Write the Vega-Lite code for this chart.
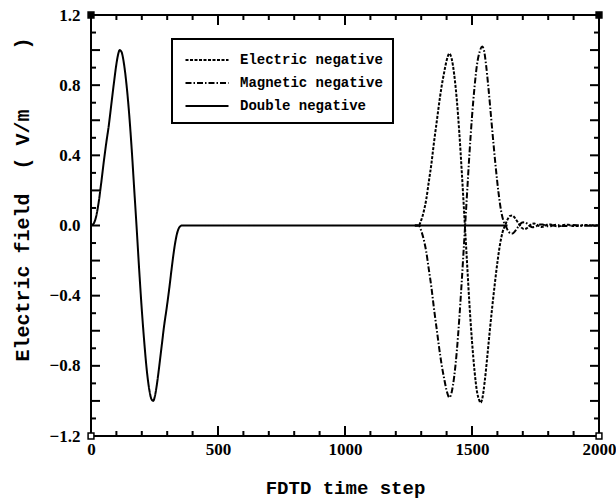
{
  "$schema": "https://vega.github.io/schema/vega-lite/v6.json",
  "width": 508,
  "height": 421,
  "autosize": {"type": "none"},
  "padding": {"left": 91, "top": 15, "right": 17, "bottom": 67},
  "background": "white",
  "config": {
    "view": {"stroke": "black", "strokeWidth": 2},
    "legend": {"strokeWidth": 2},
    "axis": {"domain": false, "grid": false, "ticks": false}
  },
  "datasets": {
    "curves": [
      {"step": 0, "field": 0, "medium": "Double negative"}, {"step": 10, "field": 0.01, "medium": "Double negative"}, {"step": 20, "field": 0.05, "medium": "Double negative"}, {"step": 30, "field": 0.13, "medium": "Double negative"},
      {"step": 40, "field": 0.24, "medium": "Double negative"}, {"step": 50, "field": 0.36, "medium": "Double negative"}, {"step": 60, "field": 0.47, "medium": "Double negative"}, {"step": 70, "field": 0.57, "medium": "Double negative"},
      {"step": 80, "field": 0.69, "medium": "Double negative"}, {"step": 90, "field": 0.81, "medium": "Double negative"}, {"step": 100, "field": 0.92, "medium": "Double negative"}, {"step": 106, "field": 0.97, "medium": "Double negative"},
      {"step": 113, "field": 1.0, "medium": "Double negative"}, {"step": 120, "field": 0.99, "medium": "Double negative"}, {"step": 130, "field": 0.92, "medium": "Double negative"}, {"step": 140, "field": 0.8, "medium": "Double negative"},
      {"step": 150, "field": 0.64, "medium": "Double negative"}, {"step": 160, "field": 0.44, "medium": "Double negative"}, {"step": 170, "field": 0.21, "medium": "Double negative"}, {"step": 180, "field": -0.02, "medium": "Double negative"},
      {"step": 190, "field": -0.26, "medium": "Double negative"}, {"step": 200, "field": -0.48, "medium": "Double negative"}, {"step": 210, "field": -0.67, "medium": "Double negative"}, {"step": 220, "field": -0.83, "medium": "Double negative"},
      {"step": 230, "field": -0.94, "medium": "Double negative"}, {"step": 238, "field": -0.99, "medium": "Double negative"}, {"step": 245, "field": -1.0, "medium": "Double negative"}, {"step": 252, "field": -0.97, "medium": "Double negative"},
      {"step": 258, "field": -0.92, "medium": "Double negative"}, {"step": 268, "field": -0.81, "medium": "Double negative"}, {"step": 278, "field": -0.69, "medium": "Double negative"}, {"step": 288, "field": -0.57, "medium": "Double negative"},
      {"step": 298, "field": -0.47, "medium": "Double negative"}, {"step": 308, "field": -0.36, "medium": "Double negative"}, {"step": 318, "field": -0.24, "medium": "Double negative"}, {"step": 328, "field": -0.13, "medium": "Double negative"},
      {"step": 338, "field": -0.05, "medium": "Double negative"}, {"step": 348, "field": -0.01, "medium": "Double negative"}, {"step": 358, "field": 0, "medium": "Double negative"}, {"step": 1640, "field": 0, "medium": "Double negative"},

      {"step": 1275, "field": 0, "medium": "Electric negative"}, {"step": 1290, "field": 0, "medium": "Electric negative"}, {"step": 1300, "field": 0.03, "medium": "Electric negative"}, {"step": 1310, "field": 0.08, "medium": "Electric negative"},
      {"step": 1320, "field": 0.15, "medium": "Electric negative"}, {"step": 1330, "field": 0.25, "medium": "Electric negative"}, {"step": 1340, "field": 0.35, "medium": "Electric negative"}, {"step": 1350, "field": 0.47, "medium": "Electric negative"},
      {"step": 1360, "field": 0.58, "medium": "Electric negative"}, {"step": 1370, "field": 0.69, "medium": "Electric negative"}, {"step": 1380, "field": 0.79, "medium": "Electric negative"}, {"step": 1390, "field": 0.87, "medium": "Electric negative"},
      {"step": 1400, "field": 0.94, "medium": "Electric negative"}, {"step": 1411, "field": 0.98, "medium": "Electric negative"}, {"step": 1420, "field": 0.95, "medium": "Electric negative"}, {"step": 1430, "field": 0.86, "medium": "Electric negative"},
      {"step": 1440, "field": 0.72, "medium": "Electric negative"}, {"step": 1450, "field": 0.53, "medium": "Electric negative"}, {"step": 1460, "field": 0.3, "medium": "Electric negative"}, {"step": 1470, "field": 0.05, "medium": "Electric negative"},
      {"step": 1480, "field": -0.2, "medium": "Electric negative"}, {"step": 1490, "field": -0.45, "medium": "Electric negative"}, {"step": 1500, "field": -0.66, "medium": "Electric negative"}, {"step": 1510, "field": -0.83, "medium": "Electric negative"},
      {"step": 1520, "field": -0.95, "medium": "Electric negative"}, {"step": 1527, "field": -0.99, "medium": "Electric negative"}, {"step": 1534, "field": -1.01, "medium": "Electric negative"}, {"step": 1540, "field": -0.99, "medium": "Electric negative"},
      {"step": 1550, "field": -0.89, "medium": "Electric negative"}, {"step": 1560, "field": -0.75, "medium": "Electric negative"}, {"step": 1570, "field": -0.6, "medium": "Electric negative"}, {"step": 1580, "field": -0.46, "medium": "Electric negative"},
      {"step": 1590, "field": -0.33, "medium": "Electric negative"}, {"step": 1600, "field": -0.21, "medium": "Electric negative"}, {"step": 1610, "field": -0.11, "medium": "Electric negative"}, {"step": 1620, "field": -0.04, "medium": "Electric negative"},
      {"step": 1630, "field": 0.0, "medium": "Electric negative"}, {"step": 1640, "field": 0.035, "medium": "Electric negative"}, {"step": 1650, "field": 0.055, "medium": "Electric negative"}, {"step": 1658, "field": 0.057, "medium": "Electric negative"},
      {"step": 1665, "field": 0.05, "medium": "Electric negative"}, {"step": 1675, "field": 0.03, "medium": "Electric negative"}, {"step": 1685, "field": 0.008, "medium": "Electric negative"}, {"step": 1695, "field": -0.012, "medium": "Electric negative"},
      {"step": 1705, "field": -0.02, "medium": "Electric negative"}, {"step": 1715, "field": -0.016, "medium": "Electric negative"}, {"step": 1725, "field": -0.004, "medium": "Electric negative"}, {"step": 1735, "field": 0.008, "medium": "Electric negative"},
      {"step": 1745, "field": 0.011, "medium": "Electric negative"}, {"step": 1755, "field": 0.005, "medium": "Electric negative"}, {"step": 1765, "field": -0.004, "medium": "Electric negative"}, {"step": 1775, "field": -0.008, "medium": "Electric negative"},
      {"step": 1785, "field": -0.004, "medium": "Electric negative"}, {"step": 1795, "field": 0.004, "medium": "Electric negative"}, {"step": 1810, "field": 0.006, "medium": "Electric negative"}, {"step": 1825, "field": -0.002, "medium": "Electric negative"},
      {"step": 1840, "field": -0.005, "medium": "Electric negative"}, {"step": 1860, "field": 0.003, "medium": "Electric negative"}, {"step": 1880, "field": 0.004, "medium": "Electric negative"}, {"step": 1900, "field": -0.003, "medium": "Electric negative"},
      {"step": 1920, "field": -0.003, "medium": "Electric negative"}, {"step": 1940, "field": 0.003, "medium": "Electric negative"}, {"step": 1960, "field": 0.002, "medium": "Electric negative"}, {"step": 1980, "field": -0.002, "medium": "Electric negative"},
      {"step": 2000, "field": 0, "medium": "Electric negative"},

      {"step": 1275, "field": 0, "medium": "Magnetic negative"}, {"step": 1290, "field": 0, "medium": "Magnetic negative"}, {"step": 1300, "field": -0.03, "medium": "Magnetic negative"}, {"step": 1310, "field": -0.08, "medium": "Magnetic negative"},
      {"step": 1320, "field": -0.15, "medium": "Magnetic negative"}, {"step": 1330, "field": -0.25, "medium": "Magnetic negative"}, {"step": 1340, "field": -0.35, "medium": "Magnetic negative"}, {"step": 1350, "field": -0.47, "medium": "Magnetic negative"},
      {"step": 1360, "field": -0.58, "medium": "Magnetic negative"}, {"step": 1370, "field": -0.69, "medium": "Magnetic negative"}, {"step": 1380, "field": -0.79, "medium": "Magnetic negative"}, {"step": 1390, "field": -0.87, "medium": "Magnetic negative"},
      {"step": 1400, "field": -0.94, "medium": "Magnetic negative"}, {"step": 1411, "field": -0.98, "medium": "Magnetic negative"}, {"step": 1420, "field": -0.95, "medium": "Magnetic negative"}, {"step": 1430, "field": -0.86, "medium": "Magnetic negative"},
      {"step": 1440, "field": -0.72, "medium": "Magnetic negative"}, {"step": 1450, "field": -0.53, "medium": "Magnetic negative"}, {"step": 1460, "field": -0.31, "medium": "Magnetic negative"}, {"step": 1470, "field": -0.07, "medium": "Magnetic negative"},
      {"step": 1480, "field": 0.17, "medium": "Magnetic negative"}, {"step": 1490, "field": 0.41, "medium": "Magnetic negative"}, {"step": 1500, "field": 0.62, "medium": "Magnetic negative"}, {"step": 1510, "field": 0.79, "medium": "Magnetic negative"},
      {"step": 1520, "field": 0.92, "medium": "Magnetic negative"}, {"step": 1530, "field": 0.99, "medium": "Magnetic negative"}, {"step": 1540, "field": 1.02, "medium": "Magnetic negative"}, {"step": 1547, "field": 1.0, "medium": "Magnetic negative"},
      {"step": 1555, "field": 0.92, "medium": "Magnetic negative"}, {"step": 1565, "field": 0.78, "medium": "Magnetic negative"}, {"step": 1575, "field": 0.62, "medium": "Magnetic negative"}, {"step": 1585, "field": 0.46, "medium": "Magnetic negative"},
      {"step": 1595, "field": 0.31, "medium": "Magnetic negative"}, {"step": 1605, "field": 0.18, "medium": "Magnetic negative"}, {"step": 1615, "field": 0.08, "medium": "Magnetic negative"}, {"step": 1623, "field": 0.03, "medium": "Magnetic negative"},
      {"step": 1632, "field": 0.0, "medium": "Magnetic negative"}, {"step": 1642, "field": -0.03, "medium": "Magnetic negative"}, {"step": 1652, "field": -0.045, "medium": "Magnetic negative"}, {"step": 1660, "field": -0.045, "medium": "Magnetic negative"},
      {"step": 1668, "field": -0.035, "medium": "Magnetic negative"}, {"step": 1678, "field": -0.015, "medium": "Magnetic negative"}, {"step": 1688, "field": 0.005, "medium": "Magnetic negative"}, {"step": 1698, "field": 0.017, "medium": "Magnetic negative"},
      {"step": 1708, "field": 0.018, "medium": "Magnetic negative"}, {"step": 1718, "field": 0.01, "medium": "Magnetic negative"}, {"step": 1728, "field": -0.003, "medium": "Magnetic negative"}, {"step": 1738, "field": -0.01, "medium": "Magnetic negative"},
      {"step": 1748, "field": -0.008, "medium": "Magnetic negative"}, {"step": 1758, "field": 0.0, "medium": "Magnetic negative"}, {"step": 1768, "field": 0.006, "medium": "Magnetic negative"}, {"step": 1778, "field": 0.006, "medium": "Magnetic negative"},
      {"step": 1790, "field": -0.002, "medium": "Magnetic negative"}, {"step": 1805, "field": -0.005, "medium": "Magnetic negative"}, {"step": 1820, "field": 0.002, "medium": "Magnetic negative"}, {"step": 1835, "field": 0.004, "medium": "Magnetic negative"},
      {"step": 1855, "field": -0.003, "medium": "Magnetic negative"}, {"step": 1875, "field": -0.003, "medium": "Magnetic negative"}, {"step": 1895, "field": 0.003, "medium": "Magnetic negative"}, {"step": 1915, "field": 0.002, "medium": "Magnetic negative"},
      {"step": 1935, "field": -0.002, "medium": "Magnetic negative"}, {"step": 1955, "field": -0.002, "medium": "Magnetic negative"}, {"step": 1975, "field": 0.002, "medium": "Magnetic negative"}, {"step": 2000, "field": 0, "medium": "Magnetic negative"}
    ],
    "corners": [
      {"step": 0, "field": 1.2, "pos": "top"}, {"step": 2000, "field": 1.2, "pos": "top"},
      {"step": 0, "field": -1.2, "pos": "bottom"}, {"step": 2000, "field": -1.2, "pos": "bottom"}
    ],
    "xticks": [
      {"step": 100, "kind": "minor"}, {"step": 200, "kind": "minor"}, {"step": 300, "kind": "minor"}, {"step": 400, "kind": "minor"},
      {"step": 500, "kind": "major"}, {"step": 600, "kind": "minor"}, {"step": 700, "kind": "minor"}, {"step": 800, "kind": "minor"},
      {"step": 900, "kind": "minor"}, {"step": 1000, "kind": "major"}, {"step": 1100, "kind": "minor"}, {"step": 1200, "kind": "minor"},
      {"step": 1300, "kind": "minor"}, {"step": 1400, "kind": "minor"}, {"step": 1500, "kind": "major"}, {"step": 1600, "kind": "minor"},
      {"step": 1700, "kind": "minor"}, {"step": 1800, "kind": "minor"}, {"step": 1900, "kind": "minor"}
    ],
    "yticks": [
      {"field": -1.1, "kind": "minor"}, {"field": -1.0, "kind": "major"}, {"field": -0.9, "kind": "minor"}, {"field": -0.8, "kind": "major"},
      {"field": -0.7, "kind": "minor"}, {"field": -0.6, "kind": "major"}, {"field": -0.5, "kind": "minor"}, {"field": -0.4, "kind": "major"},
      {"field": -0.3, "kind": "minor"}, {"field": -0.2, "kind": "major"}, {"field": -0.1, "kind": "minor"}, {"field": 0.0, "kind": "major"},
      {"field": 0.1, "kind": "minor"}, {"field": 0.2, "kind": "major"}, {"field": 0.3, "kind": "minor"}, {"field": 0.4, "kind": "major"},
      {"field": 0.5, "kind": "minor"}, {"field": 0.6, "kind": "major"}, {"field": 0.7, "kind": "minor"}, {"field": 0.8, "kind": "major"},
      {"field": 0.9, "kind": "minor"}, {"field": 1.0, "kind": "major"}, {"field": 1.1, "kind": "minor"}
    ]
  },
  "layer": [
    {
      "data": {"name": "curves"},
      "mark": {"type": "line", "strokeWidth": 2, "color": "black", "interpolate": "monotone"},
      "encoding": {
        "x": {
          "field": "step", "type": "quantitative",
          "scale": {"domain": [0, 2000], "nice": false, "zero": false},
          "axis": {
            "values": [0, 500, 1000, 1500, 2000],
            "format": "d",
            "labelFont": "Liberation Serif", "labelFontWeight": "bold", "labelFontSize": 17, "labelColor": "black",
            "labelPadding": 5, "labelFlush": false, "labelOverlap": false,
            "title": "FDTD time step", "titleFont": "Liberation Mono", "titleFontWeight": "bold", "titleFontSize": 19,
            "titleColor": "black", "titleX": 254, "titleY": 51, "titleBaseline": "middle", "titleAlign": "center"
          }
        },
        "y": {
          "field": "field", "type": "quantitative",
          "scale": {"domain": [-1.2, 1.2], "nice": false, "zero": false},
          "axis": {
            "values": [-1.2, -1.0, -0.8, -0.6, -0.4, -0.2, 0, 0.2, 0.4, 0.6, 0.8, 1.0, 1.2],
            "format": ".1f",
            "labelFont": "Liberation Serif", "labelFontWeight": "bold", "labelFontSize": 17, "labelColor": "black",
            "labelPadding": 11, "labelFlush": false, "labelOverlap": false,
            "title": "Electric field\u00a0\u00a0(\u00a0V/m\u00a0\u00a0\u00a0\u00a0\u00a0)",
            "titleFont": "Liberation Mono", "titleFontWeight": "bold", "titleFontSize": 20, "titleColor": "black",
            "titleX": -69, "titleY": 184, "titleBaseline": "middle", "titleAlign": "center", "titleAngle": -90
          }
        },
        "strokeDash": {
          "field": "medium", "type": "nominal",
          "scale": {"domain": ["Electric negative", "Magnetic negative", "Double negative"], "range": [[3, 1.5], [6, 2, 1.5, 2], [1, 0]]},
          "legend": {
            "title": null, "orient": "none", "legendX": 81, "legendY": 24, "direction": "vertical",
            "symbolType": "M-2.15,0H2.15", "symbolSize": 400, "symbolStrokeWidth": 2, "symbolStrokeColor": "black", "symbolOffset": 14,
            "labelFont": "Liberation Mono", "labelFontWeight": "bold", "labelFontSize": 14, "labelColor": "black",
            "labelOffset": 22, "rowPadding": 5, "padding": 10, "strokeColor": "black", "fillColor": "white"
          }
        }
      }
    },
    {
      "data": {"name": "corners"},
      "mark": {"type": "point", "shape": "square", "filled": true, "size": 34, "stroke": "black", "strokeWidth": 1.5, "opacity": 1},
      "encoding": {
        "x": {"field": "step", "type": "quantitative"},
        "y": {"field": "field", "type": "quantitative"},
        "fill": {"condition": {"test": "datum.pos === 'top'", "value": "black"}, "value": "white"}
      }
    },
    {
      "data": {"name": "xticks"},
      "transform": [{"filter": "datum.kind === 'major'"}],
      "mark": {"type": "tick", "orient": "vertical", "size": 10, "thickness": 2, "color": "black", "opacity": 1, "yOffset": -5},
      "encoding": {"x": {"field": "step", "type": "quantitative"}, "y": {"datum": -1.2, "type": "quantitative"}}
    },
    {
      "data": {"name": "xticks"},
      "transform": [{"filter": "datum.kind === 'minor'"}],
      "mark": {"type": "tick", "orient": "vertical", "size": 5, "thickness": 2, "color": "black", "opacity": 1, "yOffset": -2.5},
      "encoding": {"x": {"field": "step", "type": "quantitative"}, "y": {"datum": -1.2, "type": "quantitative"}}
    },
    {
      "data": {"name": "xticks"},
      "transform": [{"filter": "datum.kind === 'major'"}],
      "mark": {"type": "tick", "orient": "vertical", "size": 10, "thickness": 2, "color": "black", "opacity": 1, "yOffset": 5},
      "encoding": {"x": {"field": "step", "type": "quantitative"}, "y": {"datum": 1.2, "type": "quantitative"}}
    },
    {
      "data": {"name": "xticks"},
      "transform": [{"filter": "datum.kind === 'minor'"}],
      "mark": {"type": "tick", "orient": "vertical", "size": 5, "thickness": 2, "color": "black", "opacity": 1, "yOffset": 2.5},
      "encoding": {"x": {"field": "step", "type": "quantitative"}, "y": {"datum": 1.2, "type": "quantitative"}}
    },
    {
      "data": {"name": "yticks"},
      "transform": [{"filter": "datum.kind === 'major'"}],
      "mark": {"type": "tick", "orient": "horizontal", "size": 9, "thickness": 2, "color": "black", "opacity": 1, "xOffset": 4.5},
      "encoding": {"y": {"field": "field", "type": "quantitative"}, "x": {"datum": 0, "type": "quantitative"}}
    },
    {
      "data": {"name": "yticks"},
      "transform": [{"filter": "datum.kind === 'minor'"}],
      "mark": {"type": "tick", "orient": "horizontal", "size": 5, "thickness": 2, "color": "black", "opacity": 1, "xOffset": 2.5},
      "encoding": {"y": {"field": "field", "type": "quantitative"}, "x": {"datum": 0, "type": "quantitative"}}
    },
    {
      "data": {"name": "yticks"},
      "transform": [{"filter": "datum.kind === 'major'"}],
      "mark": {"type": "tick", "orient": "horizontal", "size": 9, "thickness": 2, "color": "black", "opacity": 1, "xOffset": -4.5},
      "encoding": {"y": {"field": "field", "type": "quantitative"}, "x": {"datum": 2000, "type": "quantitative"}}
    },
    {
      "data": {"name": "yticks"},
      "transform": [{"filter": "datum.kind === 'minor'"}],
      "mark": {"type": "tick", "orient": "horizontal", "size": 5, "thickness": 2, "color": "black", "opacity": 1, "xOffset": -2.5},
      "encoding": {"y": {"field": "field", "type": "quantitative"}, "x": {"datum": 2000, "type": "quantitative"}}
    }
  ]
}
